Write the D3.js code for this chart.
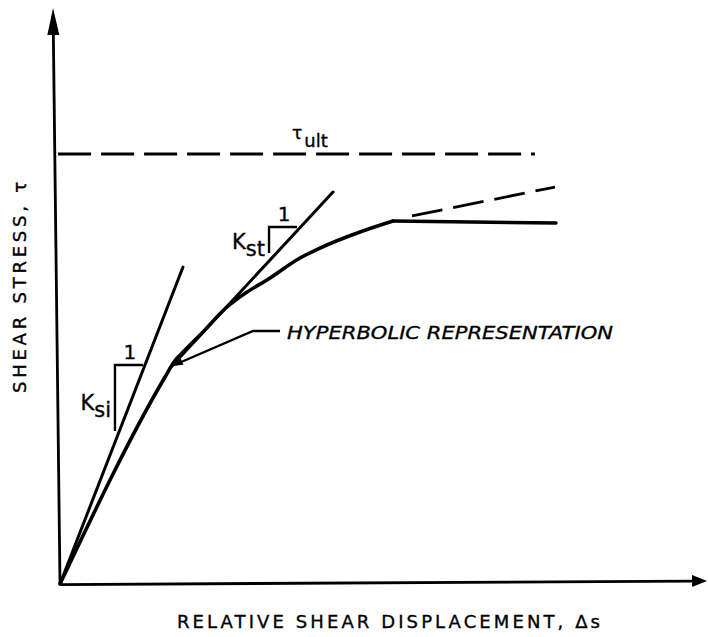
<!DOCTYPE html>
<html>
<head>
<meta charset="utf-8">
<script src="https://cdn.jsdelivr.net/npm/d3@7"></script>
<style>
  html, body { margin: 0; padding: 0; background: #fff; }
  svg { display: block; }
  text { font-family: "DejaVu Sans", "Liberation Sans", sans-serif; fill: #000; stroke: #000; stroke-width: 0.35; }
</style>
</head>
<body>
<svg id="chart" width="708" height="637"></svg>
<script>
// Shear stress vs relative shear displacement (schematic units, 0-100 on both axes)

// hyperbolic stress-displacement curve (rising branch)
const curveDisp   = [0, 16.41, 17.81, 19.69, 21.88, 26.09, 29.22, 32.34, 37.5, 40.63, 46.88, 52.03];
const curveStress = [0, 35.94, 38.54, 40.80, 43.23, 48.09, 50.69, 52.78, 56.6, 58.33, 61.11, 63.02];
// plateau reached after peak
const plateauDisp   = [52.03, 77.5];
const plateauStress = [63.02, 62.67];

// initial tangent (slope Ksi) and tangent at a working point (slope Kst)
const initialTangent = [[0, 0], [19.22, 55.03]];
const workingTangent = [[17.19, 37.5], [42.66, 68.06]];

// dashed continuation of the hyperbola beyond the plateau
const hyperbolaExtension = [[55, 63.89], [77.34, 68.92]];

// ultimate shear stress asymptote
const tauUlt = 74.65;
const tauUltSpan = [-0.3, 74.2];

// slope triangles: horizontal leg x0..x1 at yTop, vertical leg yTop..yBottom at x0
const slopeTriangles = [
  { name: "si", x0: 8.59,  x1: 12.97, yTop: 38.02, yBottom: 26.56 },
  { name: "st", x0: 32.66, x1: 37.03, yTop: 61.98, yBottom: 57.47 }
];

// leader pointing at the curve
const leader = [[17.5, 37.85], [30.16, 43.92], [34.38, 43.92]];

// axis extents (arrow tips)
const xAxisEnd = [101.1, 0.52];
const yAxisEnd = [-1.09, 100];

const labels = {
  x: "RELATIVE SHEAR DISPLACEMENT, \u0394s",
  y: "SHEAR STRESS, \u03c4",
  curve: "HYPERBOLIC REPRESENTATION"
};

const svg = d3.select("#chart");
const x = d3.scaleLinear().domain([0, 100]).range([60, 700]);
const y = d3.scaleLinear().domain([0, 100]).range([584, 8]);

const line = d3.line().x(d => x(d[0])).y(d => y(d[1]));
const smooth = d3.line().x(d => x(d[0])).y(d => y(d[1])).curve(d3.curveMonotoneX);

// ---- axes with arrowheads ----
function arrowAxis(from, to, len, half) {
  const x0 = x(from[0]), y0 = y(from[1]), x1 = x(to[0]), y1 = y(to[1]);
  const dx = x1 - x0, dy = y1 - y0, L = Math.hypot(dx, dy);
  const ux = dx / L, uy = dy / L;
  const bx = x1 - ux * len, by = y1 - uy * len;
  svg.append("line")
    .attr("x1", x0).attr("y1", y0).attr("x2", bx).attr("y2", by)
    .attr("stroke", "#000").attr("stroke-width", 2.8);
  svg.append("path")
    .attr("d", `M${x1},${y1}L${bx - uy * half},${by + ux * half}L${bx + uy * half},${by - ux * half}Z`)
    .attr("fill", "#000");
}
arrowAxis([0, 0], yAxisEnd, 27, 6);
arrowAxis([0, -0.1], xAxisEnd, 15, 6);

// ---- ultimate stress asymptote ----
svg.append("path")
  .attr("d", line([[tauUltSpan[0], tauUlt], [tauUltSpan[1], tauUlt]]))
  .attr("fill", "none").attr("stroke", "#000")
  .attr("stroke-width", 2.8).attr("stroke-dasharray", "33,10");

const tauLabel = svg.append("text")
  .attr("x", x(36.25)).attr("y", y(tauUlt) - 15)
  .attr("font-size", 17);
tauLabel.append("tspan").text("\u03c4");
tauLabel.append("tspan").attr("dy", 8).attr("dx", 2).attr("font-size", 18).text("ult");

// ---- tangents ----
[initialTangent, workingTangent].forEach(seg => {
  svg.append("path").attr("d", line(seg))
    .attr("fill", "none").attr("stroke", "#000")
    .attr("stroke-width", 3).attr("stroke-linecap", "round");
});

svg.append("path").attr("d", line(hyperbolaExtension))
  .attr("fill", "none").attr("stroke", "#000")
  .attr("stroke-width", 2.8).attr("stroke-dasharray", "31,11");

// ---- hyperbolic curve + plateau ----
const curvePts = curveDisp.map((d, i) => [d, curveStress[i]]);
svg.append("path").attr("d", smooth(curvePts))
  .attr("fill", "none").attr("stroke", "#000")
  .attr("stroke-width", 3.6).attr("stroke-linejoin", "round").attr("stroke-linecap", "round");

const plateauPts = plateauDisp.map((d, i) => [d, plateauStress[i]]);
svg.append("path").attr("d", line(plateauPts))
  .attr("fill", "none").attr("stroke", "#000")
  .attr("stroke-width", 3.4).attr("stroke-linecap", "round");

// ---- slope triangles and their labels ----
slopeTriangles.forEach(t => {
  svg.append("path")
    .attr("d", line([[t.x1, t.yTop], [t.x0, t.yTop], [t.x0, t.yBottom]]))
    .attr("fill", "none").attr("stroke", "#000").attr("stroke-width", 2.4);

  svg.append("text")
    .attr("x", (x(t.x0) + x(t.x1)) / 2 + 1)
    .attr("y", y(t.yTop) - 6)
    .attr("text-anchor", "middle")
    .attr("font-size", 20)
    .text("1");

  const k = svg.append("text")
    .attr("x", x(t.x0) - 4)
    .attr("y", (y(t.yTop) + y(t.yBottom)) / 2 + (t.name === "si" ? 12 : 9))
    .attr("text-anchor", "end")
    .attr("font-size", 21);
  k.append("tspan").text("K");
  k.append("tspan").attr("dy", 7).text(t.name);
});

// ---- leader with arrowhead ----
svg.append("path").attr("d", line(leader))
  .attr("fill", "none").attr("stroke", "#000").attr("stroke-width", 2.4);
(function () {
  const tx = x(leader[0][0]), ty = y(leader[0][1]);
  const nx = x(leader[1][0]), ny = y(leader[1][1]);
  const L = Math.hypot(nx - tx, ny - ty), ux = (nx - tx) / L, uy = (ny - ty) / L;
  const bx = tx + ux * 11, by = ty + uy * 11, h = 3.5;
  svg.append("path")
    .attr("d", `M${tx},${ty}L${bx - uy * h},${by + ux * h}L${bx + uy * h},${by - ux * h}Z`)
    .attr("fill", "#000");
})();

const end = leader[leader.length - 1];
svg.append("text")
  .attr("x", x(end[0]) + 7).attr("y", y(end[1]) + 8)
  .attr("font-size", 18).attr("font-style", "italic")
  .attr("textLength", 326).attr("lengthAdjust", "spacingAndGlyphs")
  .text(labels.curve);

// ---- axis titles ----
svg.append("text")
  .attr("x", 177).attr("y", 628)
  .attr("font-size", 18)
  .attr("textLength", 423).attr("lengthAdjust", "spacing")
  .text(labels.x);

svg.append("text")
  .attr("transform", "translate(26,393) rotate(-90)")
  .attr("font-size", 18)
  .attr("textLength", 211).attr("lengthAdjust", "spacing")
  .text(labels.y);
</script>
</body>
</html>
